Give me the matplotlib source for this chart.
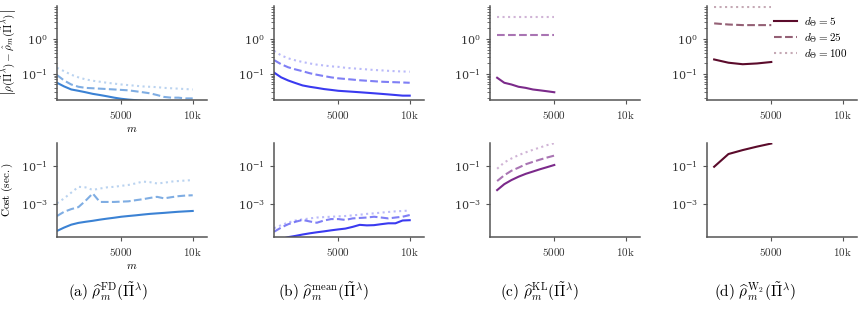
import matplotlib
matplotlib.use("Agg")
import matplotlib.pyplot as plt
from matplotlib.ticker import FixedLocator, FixedFormatter, NullLocator, LogLocator

plt.rcParams['mathtext.fontset'] = 'cm'
plt.rcParams['font.family'] = ['DejaVu Serif']
plt.rcParams['axes.edgecolor'] = '#555555'
plt.rcParams['xtick.color'] = '#555555'
plt.rcParams['ytick.color'] = '#555555'
plt.rcParams['xtick.labelcolor'] = '#333333'
plt.rcParams['ytick.labelcolor'] = '#333333'

# sample sizes
m_long = [500, 1000, 1500, 2000, 2500, 3000, 3500, 4000, 4500, 5000,
          5500, 6000, 6500, 7000, 7500, 8000, 8500, 9000, 9500, 10000]
m_kl = [1000, 1500, 2000, 2500, 3000, 3500, 4000, 4500, 5000]
m_w2 = [1000, 2000, 3000, 4000, 5000]

dims = [5, 25, 100]

# error, rows = d_theta 5, 25, 100
err_fd = [
    [0.056, 0.044, 0.036, 0.033, 0.030, 0.027, 0.025, 0.023, 0.021, 0.0195,
     0.0185, 0.0178, 0.0172, 0.0166, 0.016, 0.0155, 0.015, 0.0145, 0.014, 0.0135],
    [0.093, 0.065, 0.050, 0.043, 0.040, 0.039, 0.038, 0.037, 0.036, 0.035,
     0.034, 0.032, 0.030, 0.028, 0.025, 0.022, 0.021, 0.021, 0.020, 0.020],
    [0.15, 0.12, 0.095, 0.080, 0.070, 0.064, 0.060, 0.056, 0.053, 0.050,
     0.048, 0.046, 0.044, 0.043, 0.042, 0.040, 0.039, 0.038, 0.037, 0.036],
]
err_mean = [
    [0.11, 0.08, 0.065, 0.055, 0.047, 0.043, 0.040, 0.037, 0.035, 0.033,
     0.032, 0.031, 0.030, 0.029, 0.028, 0.027, 0.026, 0.025, 0.024, 0.024],
    [0.25, 0.19, 0.155, 0.135, 0.12, 0.105, 0.095, 0.087, 0.080, 0.075,
     0.072, 0.069, 0.066, 0.064, 0.062, 0.060, 0.059, 0.058, 0.057, 0.056],
    [0.46, 0.34, 0.28, 0.245, 0.22, 0.20, 0.185, 0.175, 0.165, 0.16,
     0.15, 0.145, 0.14, 0.135, 0.13, 0.127, 0.123, 0.12, 0.118, 0.116],
]
err_kl = [
    [0.078, 0.056, 0.050, 0.043, 0.040, 0.036, 0.034, 0.032, 0.030],
    [1.3, 1.3, 1.3, 1.3, 1.3, 1.3, 1.3, 1.3, 1.3],
    [4.3, 4.3, 4.3, 4.3, 4.3, 4.3, 4.3, 4.3, 4.3],
]
err_w2 = [
    [0.26, 0.21, 0.19, 0.20, 0.22],
    [2.8, 2.6, 2.5, 2.5, 2.5],
    [8.0, 8.0, 8.0, 8.0, 8.0],
]

# cost in seconds
cost_fd = [
    [4e-5, 6e-5, 8.5e-5, 1.05e-4, 1.2e-4, 1.35e-4, 1.55e-4, 1.75e-4, 1.95e-4, 2.2e-4,
     2.4e-4, 2.6e-4, 2.85e-4, 3.1e-4, 3.3e-4, 3.5e-4, 3.75e-4, 4.0e-4, 4.2e-4, 4.4e-4],
    [2.4e-4, 4e-4, 5.5e-4, 7e-4, 1.5e-3, 3.6e-3, 1.3e-3, 1.3e-3, 1.3e-3, 1.35e-3,
     1.4e-3, 1.6e-3, 1.8e-3, 2.1e-3, 2.4e-3, 2.0e-3, 2.3e-3, 2.6e-3, 2.8e-3, 2.9e-3],
    [1.1e-3, 2.0e-3, 4.0e-3, 8.0e-3, 7.5e-3, 5.5e-3, 6.5e-3, 7.5e-3, 8e-3, 9e-3,
     1.0e-2, 1.2e-2, 1.5e-2, 1.4e-2, 1.2e-2, 1.3e-2, 1.5e-2, 1.6e-2, 1.7e-2, 1.8e-2],
]
cost_mean = [
    [1.2e-5, 1.5e-5, 1.9e-5, 2.2e-5, 2.6e-5, 3.0e-5, 3.4e-5, 3.8e-5, 4.3e-5, 4.8e-5,
     5.3e-5, 6.5e-5, 8.3e-5, 7.8e-5, 8e-5, 9e-5, 1e-4, 1e-4, 1.4e-4, 1.45e-4],
    [3.6e-5, 6e-5, 9e-5, 1.2e-4, 1.5e-4, 1.25e-4, 1.07e-4, 1.4e-4, 1.66e-4, 1.66e-4,
     1.5e-4, 1.8e-4, 1.9e-4, 2.0e-4, 2.2e-4, 2.0e-4, 1.8e-4, 2.0e-4, 2.2e-4, 2.7e-4],
    [5.5e-5, 8e-5, 1.1e-4, 1.4e-4, 1.6e-4, 1.8e-4, 2.0e-4, 2.1e-4, 2.2e-4, 2.3e-4,
     2.4e-4, 2.6e-4, 2.8e-4, 3.1e-4, 3.3e-4, 3.6e-4, 3.9e-4, 4.2e-4, 4.4e-4, 4.6e-4],
]
cost_kl = [
    [0.0054, 0.011, 0.018, 0.027, 0.038, 0.05, 0.066, 0.085, 0.11],
    [0.016, 0.032, 0.055, 0.08, 0.12, 0.16, 0.21, 0.27, 0.34],
    [0.07, 0.15, 0.24, 0.36, 0.5, 0.68, 0.9, 1.2, 1.5],
]
cost_w2 = [
    [0.089, 0.41, 0.66, 1.0, 1.45],
]

panels = [
    ("(a)", r"\mathrm{FD}", m_long, err_fd, cost_fd, "#3b82d4"),
    ("(b)", r"\mathrm{mean}", m_long, err_mean, cost_mean, "#3a3af0"),
    ("(c)", r"\mathrm{KL}", m_kl, err_kl, cost_kl, "#7b2a8a"),
    ("(d)", r"\mathrm{W}_2", m_w2, err_w2, cost_w2, "#5b0b2b"),
]

styles = ['-', '--', ':']
alphas = [1.0, 0.65, 0.35]

W, H = 863, 325
fig = plt.figure(figsize=(W / 100, H / 100), dpi=100)

lefts = [57, 274, 490, 707]
aw, ah = 150, 94
tops = [6, 142.7]


def style_ax(ax, log_ticks, minor):
    ax.set_yscale('log')
    ax.set_xlim(500, 11000)
    for s in ['top', 'right']:
        ax.spines[s].set_visible(False)
    for s in ['left', 'bottom']:
        ax.spines[s].set_linewidth(1.1)
    ax.xaxis.set_major_locator(FixedLocator([5000, 10000]))
    ax.xaxis.set_major_formatter(FixedFormatter([r'$5000$', r'$10\mathrm{k}$']))
    ax.yaxis.set_major_locator(FixedLocator(log_ticks))
    if minor:
        ax.yaxis.set_minor_locator(LogLocator(base=10, subs=range(2, 10)))
    else:
        ax.yaxis.set_minor_locator(NullLocator())
    ax.tick_params(labelsize=8, length=3, width=0.8)
    ax.tick_params(which='minor', length=2, width=0.6)


for i, (tag, sup, m, err, cost, col) in enumerate(panels):
    x0 = lefts[i] / W
    ax_top = fig.add_axes([x0, 1 - (tops[0] + ah) / H, aw / W, ah / H])
    ax_bot = fig.add_axes([x0, 1 - (tops[1] + ah) / H, aw / W, ah / H])

    for k, ys in enumerate(err):
        ax_top.plot(m, ys, ls=styles[k], color=col, alpha=alphas[k], lw=1.5,
                    label=r'$d_\Theta = %d$' % dims[k])
    for k, ys in enumerate(cost):
        ax_bot.plot(m, ys, ls=styles[k], color=col, alpha=alphas[k], lw=1.5)

    style_ax(ax_top, [0.1, 1.0], True)
    ax_top.set_ylim(0.018, 8.8)
    style_ax(ax_bot, [1e-3, 1e-1], False)
    ax_bot.set_ylim(2e-5, 1.6)

    if i == 0:
        ax_top.set_xlabel(r'$m$', fontsize=8, labelpad=2)
        ax_bot.set_xlabel(r'$m$', fontsize=8, labelpad=2)
        ax_top.set_ylabel(r'$\left|\rho(\tilde{\Pi}^{\lambda}) - \hat{\rho}_m(\tilde{\Pi}^{\lambda})\right|$',
                          fontsize=8, labelpad=2)
        ax_bot.set_ylabel(r'$\mathrm{Cost\ (sec.)}$', fontsize=8, labelpad=4)
    if i == 3:
        ax_top.legend(loc='upper left', bbox_to_anchor=(0.42, 0.95), frameon=False,
                      fontsize=8, handlelength=2.0, handletextpad=0.7,
                      labelspacing=0.2, borderaxespad=0)

    fig.text((i + 0.5) / 4, 1 - 292 / H,
             r'$\mathrm{%s}\ \widehat{\rho}_m^{%s}(\tilde{\Pi}^{\lambda})$' % (tag, sup),
             ha='center', va='center', fontsize=11)

fig.savefig('out.png', dpi=100)
